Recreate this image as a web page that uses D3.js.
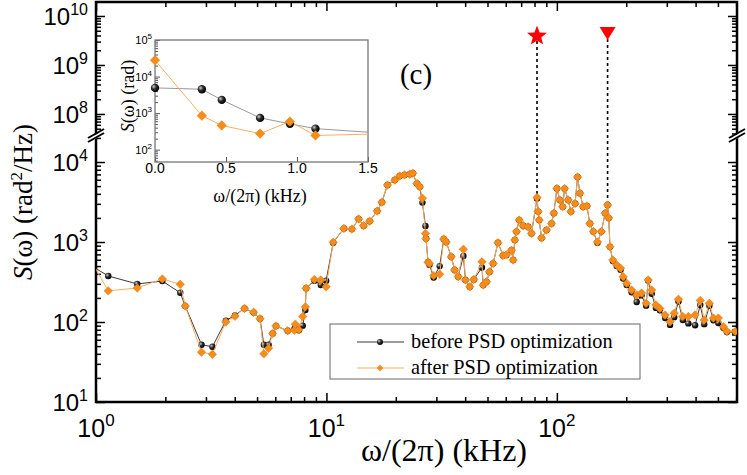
<!DOCTYPE html>
<html>
<head>
<meta charset="utf-8">
<script src="https://cdn.jsdelivr.net/npm/d3@7"></script>
<style>
  body { margin: 0; background: #fff; }
  svg { display: block; }
</style>
</head>
<body>
<svg id="chart" width="747" height="475"></svg>
<script>
// frequency in kHz, PSD values
const freq = [0, 0.33, 0.47, 0.74, 0.95, 1.13, 1.51, 1.94, 2.32, 2.44, 2.87, 3.2, 3.66, 4.01, 4.41, 4.83, 5.15, 5.35, 5.61, 5.84,
  6.04, 6.79, 7.26, 7.33, 7.59, 7.89, 8.1, 8.16, 8.87, 9.45, 9.97, 10.7, 11.9, 12.9, 13.8, 14.5, 15.4, 16.6, 17.4, 18.4,
  19.8, 20.8, 21.8, 23.0, 23.7, 24.7, 25.4, 26.1, 26.9, 27.05, 27.6, 28.0, 29.2, 31.0, 32.3, 33.1, 34.8, 36.0, 37.3, 39.3,
  40.1, 41.9, 43.6, 47.3, 47.9, 49.5, 51, 52.9, 55.5, 58.4, 60.4, 63.5, 64.6, 65.7, 66.8, 68.6, 71.4, 75.0, 77.6, 82,
  83.0, 83.8, 85.8, 90.2, 94.8, 97, 100, 103, 106, 108, 112, 115, 120, 123, 126, 130, 135, 139, 144, 150,
  156, 162, 166, 168, 170, 175, 182, 189, 194, 201, 211, 222, 233, 244, 249, 258, 269, 280, 295, 310,
  323, 337, 352, 372, 398, 419, 436, 459, 478, 502, 528, 547, 594]
const before = [4900, 4500, 2300, 740, 510, 376, 299, 325, 232, 158, 52, 49, 104, 121, 148, 131, 110, 52, 52, 72,
  89, 78, 82, 86, 79, 90, 141, 265, 329, 290, 329, 980, 1480, 1450, 1940, 1600, 1820, 2440, 3150, 5150,
  5950, 6680, 6900, 7050, 7250, 5400, 4900, 3110, 1590, 1110, 565, 520, 360, 500, 1090, 1000, 655, 447, 369, 670,
  335, 276, 340, 480, 290, 318, 425, 540, 980, 680, 690, 790, 596, 1060, 1350, 1880, 1600, 1550, 1280, 3500,
  2400, 1880, 1120, 1410, 1700, 2290, 4660, 3350, 2760, 4650, 3350, 2400, 3030, 6500, 4070, 2760, 2820, 1700, 1350, 980,
  1350, 2290, 2900, 1990, 870, 580, 500, 450, 350, 290, 235, 178, 215, 160, 330, 225, 150, 140, 112, 92,
  115, 180, 106, 96, 91, 163, 94, 160, 105, 97, 85, 75, 74]
const after = [28000, 850, 460, 275, 590, 245, 266, 345, 296, 158, 42, 39.5, 100, 118, 148, 132, 110, 40, 47, 72,
  89, 78, 79, 94, 80, 117, 155, 264, 340, 335, 275, 990, 1480, 1450, 1940, 1600, 1820, 2440, 3150, 5150,
  5950, 6680, 6900, 7050, 7250, 5400, 4900, 3530, 1280, 1100, 560, 540, 380, 395, 1090, 1000, 655, 447, 369, 810,
  335, 276, 340, 565, 290, 318, 425, 540, 980, 680, 690, 790, 596, 1060, 1350, 1880, 1600, 1550, 1280, 3600,
  2400, 1880, 1120, 1410, 1700, 2290, 4660, 3350, 2760, 4650, 3350, 2400, 3030, 6500, 4070, 2760, 2820, 1700, 1350, 1000,
  1350, 2290, 2900, 1990, 870, 596, 515, 470, 369, 304, 251, 218, 230, 171, 335, 251, 163, 148, 122, 101,
  129, 192, 117, 117, 122, 186, 106, 171, 112, 112, 87, 76, 76]

const seriesNames = ["before PSD optimization", "after PSD optimization"]

// highlighted resonances: [freq, marker height on upper panel, peak value]
const starMark = [82, 3.9e9, 3600]
const triMark = [166, 4.5e9, 2900]

const xDomain = [1, 605]
const yLowDomain = [10, 21760]
const yHighDomain = [3.72e7, 1.93e10]
const xMajor = [1, 10, 100]
const yLowMajor = [10, 100, 1000, 10000]
const yHighMajor = [1e8, 1e9, 1e10]

const insetXDomain = [0, 1.5]
const insetYDomain = [46, 1e5]
const insetXTicks = [0, 0.5, 1.0, 1.5]
const insetYMajor = [100, 1000, 10000, 100000]

const L = 96, R = 737, T = 2, B = 402, BRK = 135
const serif = "'Liberation Serif', 'Times New Roman', serif"
const sans = "'Liberation Sans', Arial, sans-serif"
const orange = "#f68c1c"
const orangeLine = "#f9ad63"

const svg = d3.select("#chart")
const defs = svg.append("defs")

const grad = defs.append("radialGradient").attr("id", "ball")
  .attr("cx", "35%").attr("cy", "35%").attr("r", "65%")
grad.append("stop").attr("offset", "0%").attr("stop-color", "#d0d0d0")
grad.append("stop").attr("offset", "45%").attr("stop-color", "#303030")
grad.append("stop").attr("offset", "100%").attr("stop-color", "#000")

defs.append("clipPath").attr("id", "clipMain")
  .append("rect").attr("x", L).attr("y", BRK).attr("width", R - L).attr("height", B - BRK)

const x = d3.scaleLog().domain(xDomain).range([L, R])
const yLow = d3.scaleLog().domain(yLowDomain).range([B, BRK])
const yHigh = d3.scaleLog().domain(yHighDomain).range([BRK, T])

function minors(domain, majors) {
  const out = []
  for (let e = -1; e <= 11; e++) {
    for (let k = 1; k <= 9; k++) {
      const v = k * Math.pow(10, e)
      if (v >= domain[0] && v <= domain[1] && !majors.some(m => Math.abs(m - v) / v < 1e-9)) out.push(v)
    }
  }
  return out
}

function tickSet(g, axis, vals, size) {
  g.call(axis.tickValues(vals).tickSize(size).tickFormat(""))
  g.select(".domain").remove()
  g.selectAll("line").attr("stroke", "#000").attr("stroke-width", 1.5)
}

const data = freq.map((f, i) => ({ f: f, b: before[i], a: after[i] }))
const mainData = data.filter(d => d.f > 0)

// ticks on all four sides, pointing inwards
const axes = svg.append("g")
const xMinor = minors(xDomain, xMajor)
tickSet(axes.append("g").attr("transform", `translate(0,${B})`), d3.axisBottom(x), xMajor, -9)
tickSet(axes.append("g").attr("transform", `translate(0,${B})`), d3.axisBottom(x), xMinor, -5)
tickSet(axes.append("g").attr("transform", `translate(0,${T})`), d3.axisTop(x), xMajor, -9)
tickSet(axes.append("g").attr("transform", `translate(0,${T})`), d3.axisTop(x), xMinor, -5)

const panels = [[yLow, yLowDomain, yLowMajor], [yHigh, yHighDomain, yHighMajor]]
panels.forEach(([sc, dom, maj]) => {
  const mn = minors(dom, maj)
  tickSet(axes.append("g").attr("transform", `translate(${L},0)`), d3.axisLeft(sc), maj, -9)
  tickSet(axes.append("g").attr("transform", `translate(${L},0)`), d3.axisLeft(sc), mn, -5)
  tickSet(axes.append("g").attr("transform", `translate(${R},0)`), d3.axisRight(sc), maj, -9)
  tickSet(axes.append("g").attr("transform", `translate(${R},0)`), d3.axisRight(sc), mn, -5)
})

// frame
svg.append("rect").attr("x", L).attr("y", T).attr("width", R - L).attr("height", B - T)
  .attr("fill", "none").attr("stroke", "#000").attr("stroke-width", 2.5)

// axis break marks
;[L, R].forEach(cx => {
  svg.append("polygon")
    .attr("points", `${cx - 6},${BRK + 3} ${cx + 6},${BRK - 4} ${cx + 6},${BRK} ${cx - 6},${BRK + 7}`)
    .attr("fill", "#fff")
  ;[-2, 2].forEach(o => {
    svg.append("line")
      .attr("x1", cx - 8).attr("y1", BRK + 5 + o)
      .attr("x2", cx + 8).attr("y2", BRK - 4 + o)
      .attr("stroke", "#000").attr("stroke-width", 2)
  })
})

// tick labels with superscripts
function powLabel(g, px, py, exp, size, supSize, rise, anchor, family) {
  const t = g.append("text").attr("x", px).attr("y", py)
    .attr("text-anchor", anchor).attr("font-family", family).attr("font-size", size).attr("fill", "#000")
  t.append("tspan").text("10")
  t.append("tspan").attr("font-size", supSize).attr("dy", -rise).text(exp)
}
const labels = svg.append("g")
xMajor.forEach(v => powLabel(labels, x(v), 437, Math.round(Math.log10(v)), 25, 17, 11, "middle", sans))
yLowMajor.forEach(v => powLabel(labels, 88, yLow(v) + 9, Math.round(Math.log10(v)), 24, 16, 10, "end", sans))
yHighMajor.forEach(v => powLabel(labels, 88, yHigh(v) + 9, Math.round(Math.log10(v)), 24, 16, 10, "end", sans))

// axis titles
svg.append("text").attr("x", 444).attr("y", 461).attr("text-anchor", "middle")
  .attr("font-family", serif).attr("font-size", 32).text("ω/(2π)  (kHz)")
const yt = svg.append("text").attr("transform", "translate(32,202) rotate(-90)")
  .attr("text-anchor", "middle").attr("font-family", serif).attr("font-size", 27)
yt.append("tspan").attr("font-style", "italic").text("S")
yt.append("tspan").text("(ω)  (rad")
yt.append("tspan").attr("font-size", 17).attr("dy", -10).text("2")
yt.append("tspan").attr("dy", 10).text("/Hz)")

svg.append("text").attr("x", 416).attr("y", 84).attr("text-anchor", "middle")
  .attr("font-family", serif).attr("font-size", 29).text("(c)")

// dashed guide lines and markers
function starPath(r) {
  const pts = []
  for (let i = 0; i < 10; i++) {
    const rr = i % 2 === 0 ? r : r * 0.42
    const a = -Math.PI / 2 + i * Math.PI / 5
    pts.push([rr * Math.cos(a), rr * Math.sin(a)])
  }
  return "M" + pts.map(p => p.join(",")).join("L") + "Z"
}
svg.append("line").attr("x1", x(starMark[0])).attr("x2", x(starMark[0]))
  .attr("y1", yHigh(starMark[1]) + 5).attr("y2", yLow(starMark[2]))
  .attr("stroke", "#000").attr("stroke-width", 1.6).attr("stroke-dasharray", "3,3")
svg.append("line").attr("x1", x(triMark[0])).attr("x2", x(triMark[0]))
  .attr("y1", yHigh(triMark[1]) + 6).attr("y2", yLow(triMark[2]))
  .attr("stroke", "#000").attr("stroke-width", 1.6).attr("stroke-dasharray", "3,3")
svg.append("path").attr("d", starPath(10.5))
  .attr("transform", `translate(${x(starMark[0])},${yHigh(starMark[1])})`).attr("fill", "#f00")
svg.append("path").attr("d", "M-8,-6L8,-6L0,7Z")
  .attr("transform", `translate(${x(triMark[0])},${yHigh(triMark[1])})`).attr("fill", "#f00")

// main curves
const plot = svg.append("g").attr("clip-path", "url(#clipMain)")
const lineB = d3.line().x(d => x(d.f)).y(d => yLow(d.b))
const lineA = d3.line().x(d => x(d.f)).y(d => yLow(d.a))
plot.append("path").datum(mainData).attr("d", lineB).attr("fill", "none").attr("stroke", "#222").attr("stroke-width", 0.9)
plot.selectAll(".ball").data(mainData).enter().append("circle").attr("class", "ball")
  .attr("cx", d => x(d.f)).attr("cy", d => yLow(d.b)).attr("r", 3.2).attr("fill", "url(#ball)")
plot.append("path").datum(mainData).attr("d", lineA).attr("fill", "none").attr("stroke", orangeLine).attr("stroke-width", 1)
const diamond = d3.symbol().type(d3.symbolSquare).size(36)
plot.selectAll(".dia").data(mainData).enter().append("path").attr("class", "dia")
  .attr("d", diamond)
  .attr("transform", d => `translate(${x(d.f)},${yLow(d.a)}) rotate(45)`)
  .attr("fill", orange).attr("stroke", "#e07a0a").attr("stroke-width", 0.5)

// legend
const leg = svg.append("g")
leg.append("rect").attr("x", 330).attr("y", 324).attr("width", 310).attr("height", 55)
  .attr("fill", "#fff").attr("stroke", "#666").attr("stroke-width", 1)
leg.append("line").attr("x1", 357).attr("x2", 404).attr("y1", 342).attr("y2", 342).attr("stroke", "#222").attr("stroke-width", 0.9)
leg.append("circle").attr("cx", 380).attr("cy", 342).attr("r", 3).attr("fill", "url(#ball)")
leg.append("line").attr("x1", 357).attr("x2", 404).attr("y1", 368).attr("y2", 368).attr("stroke", orangeLine).attr("stroke-width", 1.2)
leg.append("path").attr("d", d3.symbol().type(d3.symbolSquare).size(22))
  .attr("transform", "translate(380,368) rotate(45)").attr("fill", orange)
seriesNames.forEach((n, i) => {
  leg.append("text").attr("x", 411).attr("y", 348 + i * 26).attr("font-family", serif)
    .attr("font-size", 20.3).text(n)
})

// inset
const IL = 155, IR = 368, IT = 40, IB = 162
const ix = d3.scaleLinear().domain(insetXDomain).range([IL, IR])
const iy = d3.scaleLog().domain(insetYDomain).range([IB, IT])
defs.append("clipPath").attr("id", "clipInset")
  .append("rect").attr("x", IL).attr("y", IT).attr("width", IR - IL).attr("height", IB - IT)
const inset = svg.append("g")
inset.append("rect").attr("x", IL).attr("y", IT).attr("width", IR - IL).attr("height", IB - IT).attr("fill", "#fff")
const iAxes = inset.append("g")
function insetTicks(g, axis, vals, size) {
  g.call(axis.tickValues(vals).tickSize(size).tickFormat(""))
  g.select(".domain").remove()
  g.selectAll("line").attr("stroke", "#555").attr("stroke-width", 1)
}
insetTicks(iAxes.append("g").attr("transform", `translate(${IL},0)`), d3.axisLeft(iy), insetYMajor, -5)
insetTicks(iAxes.append("g").attr("transform", `translate(${IL},0)`), d3.axisLeft(iy), minors(insetYDomain, insetYMajor), -3)
insetTicks(iAxes.append("g").attr("transform", `translate(0,${IB})`), d3.axisBottom(ix), insetXTicks, -5)
inset.append("rect").attr("x", IL).attr("y", IT).attr("width", IR - IL).attr("height", IB - IT)
  .attr("fill", "none").attr("stroke", "#777").attr("stroke-width", 1.3)

const ip = inset.append("g").attr("clip-path", "url(#clipInset)")
const insetData = data.filter(d => d.f <= 2)
ip.append("path").datum(insetData).attr("d", d3.line().x(d => ix(d.f)).y(d => iy(d.b)))
  .attr("fill", "none").attr("stroke", "#999").attr("stroke-width", 1)
ip.append("path").datum(insetData).attr("d", d3.line().x(d => ix(d.f)).y(d => iy(d.a)))
  .attr("fill", "none").attr("stroke", orangeLine).attr("stroke-width", 1)
const insetPts = data.filter(d => d.f <= 1.5)
inset.selectAll(".iball").data(insetPts).enter().append("circle")
  .attr("cx", d => ix(d.f)).attr("cy", d => iy(d.b)).attr("r", 4.2).attr("fill", "url(#ball)")
inset.selectAll(".idia").data(insetPts).enter().append("path")
  .attr("d", d3.symbol().type(d3.symbolSquare).size(52))
  .attr("transform", d => `translate(${ix(d.f)},${iy(d.a)}) rotate(45)`).attr("fill", orange)

insetXTicks.forEach(v => {
  inset.append("text").attr("x", ix(v)).attr("y", 173).attr("text-anchor", "middle")
    .attr("font-family", sans).attr("font-size", 14).text(d3.format(".1f")(v))
})
insetYMajor.forEach(v => powLabel(inset, 152, iy(v) + 4, Math.round(Math.log10(v)), 11, 8, 5, "end", sans))
inset.append("text").attr("x", 260).attr("y", 202).attr("text-anchor", "middle")
  .attr("font-family", serif).attr("font-size", 18).text("ω/(2π) (kHz)")
const iyt = inset.append("text").attr("transform", "translate(134,96) rotate(-90)")
  .attr("text-anchor", "middle").attr("font-family", serif).attr("font-size", 18)
iyt.append("tspan").attr("font-style", "italic").text("S")
iyt.append("tspan").text("(ω)  (rad)")
</script>
</body>
</html>
